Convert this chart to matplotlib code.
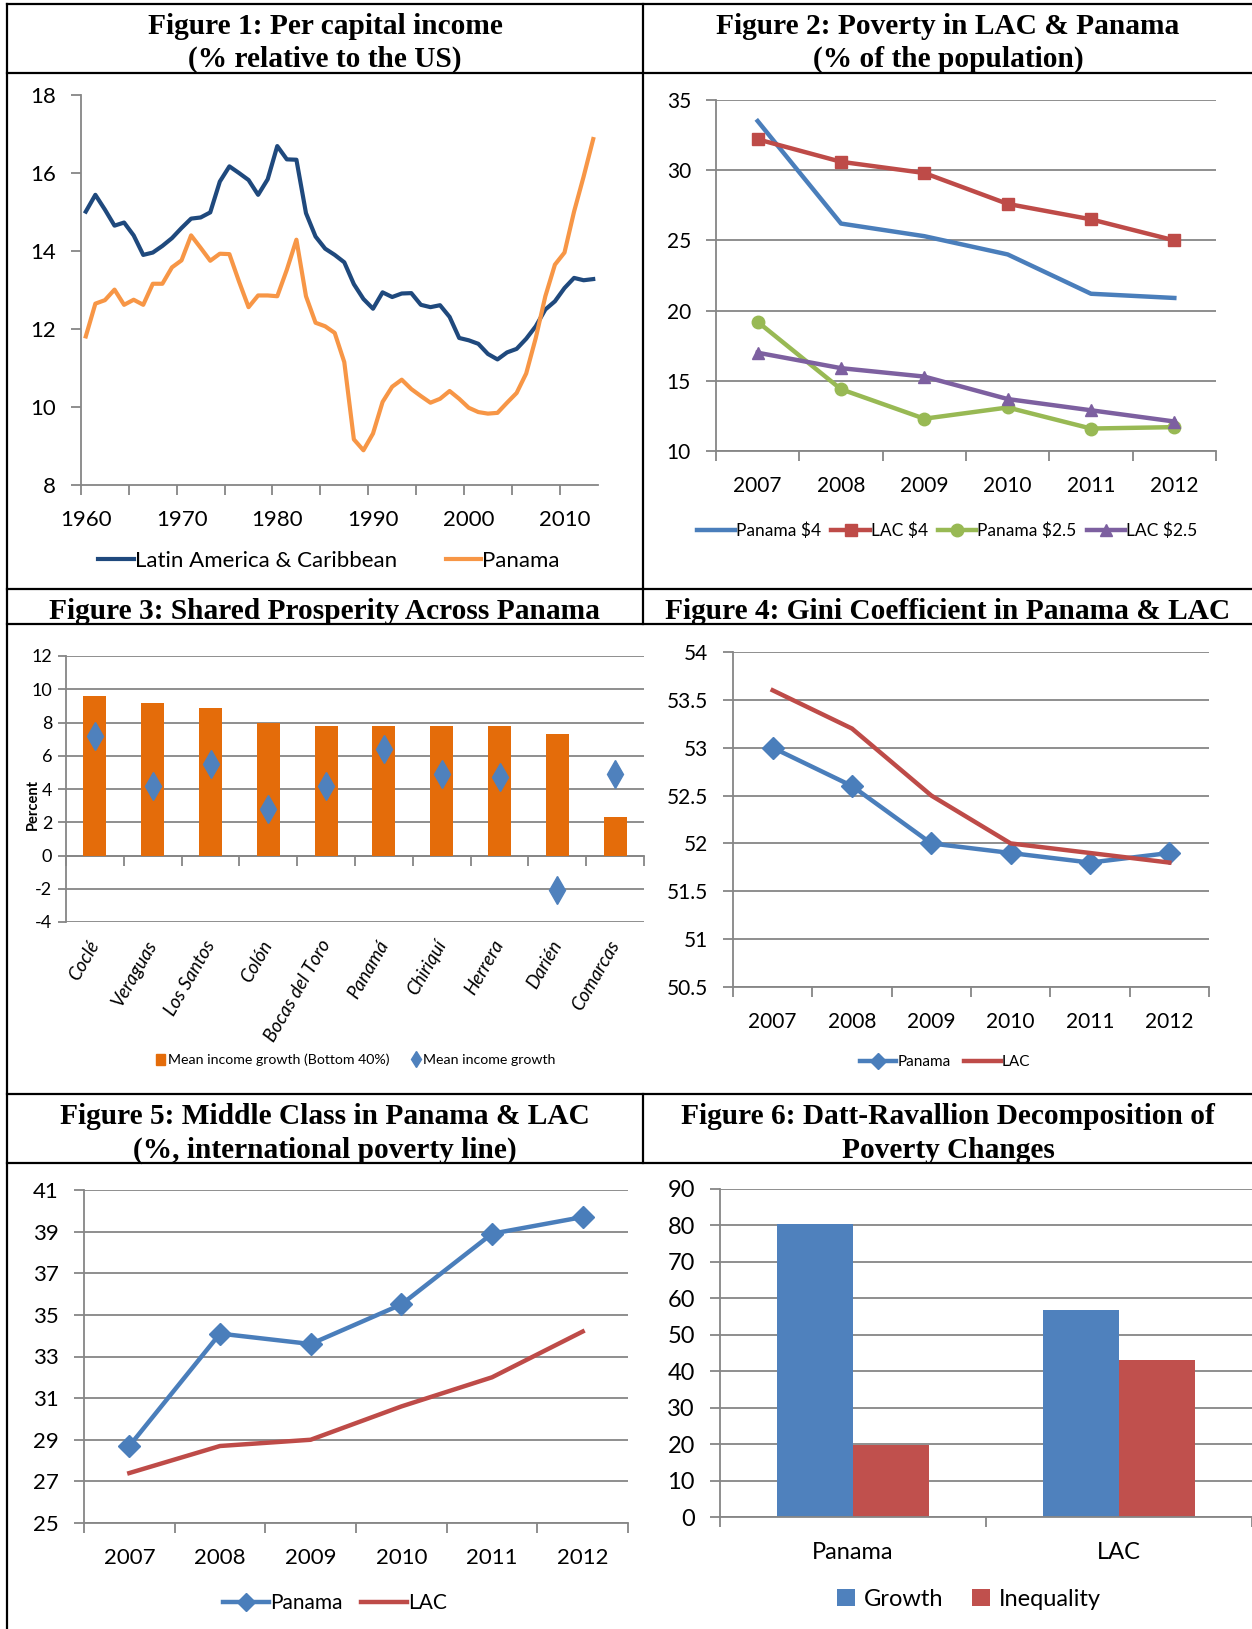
import numpy as np
import matplotlib
matplotlib.use("Agg")
import matplotlib.pyplot as plt
from matplotlib.lines import Line2D
from matplotlib.patches import Patch
from matplotlib import font_manager

W, H = 1252, 1629

# ---- Figure 1: per capita income relative to the US (1960-2013)
f1_years = list(range(1960, 2014))
f1_lac = [15.01, 15.44, 15.06, 14.65, 14.73, 14.40, 13.90, 13.96, 14.13, 14.33,
          14.59, 14.83, 14.86, 14.99, 15.78, 16.17, 16.00, 15.82, 15.44, 15.84,
          16.69, 16.35, 16.34, 14.97, 14.37, 14.06, 13.90, 13.71, 13.15, 12.77,
          12.52, 12.94, 12.82, 12.91, 12.92, 12.62, 12.56, 12.61, 12.31, 11.77,
          11.71, 11.62, 11.36, 11.22, 11.40, 11.49, 11.75, 12.07, 12.50, 12.71,
          13.05, 13.31, 13.25, 13.28]
f1_panama = [11.81, 12.65, 12.74, 13.01, 12.62, 12.75, 12.62, 13.16, 13.16, 13.58,
             13.76, 14.40, 14.08, 13.75, 13.93, 13.92, 13.22, 12.56, 12.86, 12.86,
             12.84, 13.52, 14.29, 12.84, 12.16, 12.07, 11.90, 11.15, 9.17, 8.89,
             9.32, 10.13, 10.52, 10.70, 10.46, 10.28, 10.11, 10.21, 10.41, 10.21,
             9.98, 9.87, 9.83, 9.85, 10.11, 10.36, 10.86, 11.77, 12.84, 13.65,
             13.96, 15.01, 15.91, 16.87]

# ---- shared years for figures 2, 4, 5
years = ["2007", "2008", "2009", "2010", "2011", "2012"]

# ---- Figure 2: poverty
pov_pan4 = [33.5, 26.2, 25.3, 24.0, 21.2, 20.9]
pov_lac4 = [32.2, 30.6, 29.8, 27.6, 26.5, 25.0]
pov_pan25 = [19.2, 14.4, 12.3, 13.1, 11.6, 11.7]
pov_lac25 = [17.0, 15.9, 15.3, 13.7, 12.9, 12.1]

# ---- Figure 3: shared prosperity
regions = ["Coclé", "Veraguas", "Los Santos", "Colón", "Bocas del Toro",
           "Panamá", "Chiriquí", "Herrera", "Darién", "Comarcas"]
growth_b40 = [9.6, 9.2, 8.9, 8.0, 7.8, 7.8, 7.8, 7.8, 7.3, 2.3]
growth_mean = [7.2, 4.2, 5.5, 2.8, 4.2, 6.4, 4.9, 4.7, -2.1, 4.9]

# ---- Figure 4: Gini
gini_pan = [53.0, 52.6, 52.0, 51.9, 51.8, 51.9]
gini_lac = [53.6, 53.2, 52.5, 52.0, 51.9, 51.8]

# ---- Figure 5: middle class
mid_pan = [28.7, 34.1, 33.6, 35.5, 38.9, 39.7]
mid_lac = [27.4, 28.7, 29.0, 30.6, 32.0, 34.2]

# ---- Figure 6: Datt-Ravallion
dr_groups = ["Panama", "LAC"]
dr_growth = [80.3, 56.8]
dr_ineq = [19.7, 43.2]

GRID = "#868686"
BLUE = "#4A7EBB"
RED = "#BE4B48"
GREEN = "#98B954"
PURPLE = "#7D60A0"

names = {f.name for f in font_manager.fontManager.ttflist}
NARROW = "Liberation Sans Narrow" if "Liberation Sans Narrow" in names else "Lato"
plt.rcParams["font.family"] = ["Lato", "DejaVu Sans"]
plt.rcParams["axes.unicode_minus"] = False
SERIF = dict(family="Liberation Serif", weight="bold", fontsize=21.2)


def box(l, t, r, b):
    return [l / W, 1 - b / H, (r - l) / W, (b - t) / H]


def fy(y):
    return 1 - y / H


def cat_axes(ax, ylim, ystep, labels, fs, grid=True, xpad=18, ypad=11):
    n = len(labels)
    ax.set_xlim(0, n)
    ax.set_ylim(*ylim)
    ax.set_yticks(np.arange(ylim[0], ylim[1] + ystep / 2, ystep))
    ax.yaxis.set_major_formatter(plt.FuncFormatter(lambda v, p: f"{v:g}"))
    ax.set_xticks(np.arange(n) + 0.5, labels)
    ax.set_xticks(np.arange(n + 1), minor=True)
    ax.tick_params(axis="x", which="major", length=0, labelsize=fs, pad=xpad)
    ax.tick_params(axis="x", which="minor", length=7, width=1.3, color=GRID)
    ax.tick_params(axis="y", length=7, width=1.3, color=GRID, labelsize=fs, pad=ypad)
    for s in ("top", "right"):
        ax.spines[s].set_visible(False)
    for s in ("left", "bottom"):
        ax.spines[s].set_color(GRID)
        ax.spines[s].set_linewidth(1.3)
    if grid:
        ax.yaxis.grid(True, color=GRID, lw=1.3)
        ax.set_axisbelow(True)


fig = plt.figure(figsize=(W / 100, H / 100), dpi=100)

# ---- table frame
def hline(y, x0=7, x1=W):
    fig.add_artist(Line2D([x0 / W, x1 / W], [fy(y), fy(y)], color="black", lw=1.6))


def vline(x, y0, y1):
    fig.add_artist(Line2D([x / W, x / W], [fy(y0), fy(y1)], color="black", lw=1.6))


for y in (4, 73, 589, 624, 1094, 1163):
    hline(y)
vline(7, 4, H)
vline(643, 4, 589)
vline(643, 589, 624)
vline(643, 1094, 1163)

# ---- headers
fig.text(325 / W, fy(26), "Figure 1: Per capital income", ha="center", va="center", **SERIF)
fig.text(325 / W, fy(59), "(% relative to the US)", ha="center", va="center", **SERIF)
fig.text(948 / W, fy(26), "Figure 2: Poverty in LAC & Panama", ha="center", va="center", **SERIF)
fig.text(948 / W, fy(59), "(% of the population)", ha="center", va="center", **SERIF)
fig.text(324 / W, fy(612), "Figure 3: Shared Prosperity Across Panama", ha="center", va="center", **SERIF)
fig.text(948 / W, fy(612), "Figure 4: Gini Coefficient in Panama & LAC", ha="center", va="center", **SERIF)
fig.text(325 / W, fy(1117), "Figure 5: Middle Class in Panama & LAC", ha="center", va="center", **SERIF)
fig.text(325 / W, fy(1150), "(%, international poverty line)", ha="center", va="center", **SERIF)
fig.text(948 / W, fy(1117), "Figure 6: Datt-Ravallion Decomposition of", ha="center", va="center", **SERIF)
fig.text(948 / W, fy(1150), "Poverty Changes", ha="center", va="center", **SERIF)

# ---- Figure 1
ax1 = fig.add_axes(box(81, 95, 598, 485))
n1 = len(f1_years)
x1 = np.arange(n1) + 0.5
l_lac, = ax1.plot(x1, f1_lac, color="#1F497D", lw=3.0, solid_joinstyle="round")
l_pan, = ax1.plot(x1, f1_panama, color="#F79646", lw=3.0, solid_joinstyle="round")
ax1.set_xlim(0, n1)
ax1.set_ylim(8, 18)
ax1.set_yticks(range(8, 19, 2))
lab_idx = [i for i, yr in enumerate(f1_years) if yr % 10 == 0]
ax1.set_xticks(x1[lab_idx], [str(f1_years[i]) for i in lab_idx])
ax1.set_xticks([i for i in range(n1) if i % 5 == 0], minor=True)
ax1.tick_params(axis="x", which="major", length=0, labelsize=16, pad=18)
ax1.tick_params(axis="x", which="minor", length=7, width=1.3, color=GRID)
ax1.tick_params(axis="y", length=7, width=1.3, color=GRID, labelsize=16, pad=11)
for s in ("top", "right"):
    ax1.spines[s].set_visible(False)
for s in ("left", "bottom"):
    ax1.spines[s].set_color(GRID)
    ax1.spines[s].set_linewidth(1.3)
fig.legend([l_lac, l_pan], ["Latin America & Caribbean", "Panama"], loc="center",
           bbox_to_anchor=(329 / W, fy(561)), ncol=2, frameon=False, fontsize=16,
           handlelength=1.6, handletextpad=0.05, columnspacing=2.2)

# ---- Figure 2
ax2 = fig.add_axes(box(716, 100, 1216, 451))
cat_axes(ax2, (10, 35), 5, years, 15)
xc = np.arange(len(years)) + 0.5
h1, = ax2.plot(xc, pov_pan4, color=BLUE, lw=3.2)
h2, = ax2.plot(xc, pov_lac4, color=RED, lw=3.2, marker="s", ms=9)
h3, = ax2.plot(xc, pov_pan25, color=GREEN, lw=3.2, marker="o", ms=9)
h4, = ax2.plot(xc, pov_lac25, color=PURPLE, lw=3.2, marker="^", ms=9)
fig.legend([h1, h2, h3, h4], ["Panama $4", "LAC $4", "Panama $2.5", "LAC $2.5"],
           loc="center", bbox_to_anchor=(947 / W, fy(531)), ncol=4, frameon=False,
           fontsize=12.5, handlelength=2.2, handletextpad=0.05, columnspacing=0.6)

# ---- Figure 3
ax3 = fig.add_axes(box(66, 656, 644, 922))
n3 = len(regions)
x3 = np.arange(n3) + 0.5
ax3.set_xlim(0, n3)
ax3.set_ylim(-4, 12)
ax3.set_yticks(range(-4, 13, 2))
b3 = ax3.bar(x3, growth_b40, 0.4, color="#E46C0A", zorder=2)
d3, = ax3.plot(x3, growth_mean, ls="none", marker="d", ms=14, color="#4F81BD",
               mec="#4F81BD", zorder=3)
ax3.yaxis.grid(True, color=GRID, lw=1.3)
ax3.set_axisbelow(True)
ax3.set_xticks(x3, regions, rotation=60, ha="right", va="center",
               rotation_mode="anchor", fontstyle="italic", fontsize=13.5)
ax3.tick_params(axis="x", length=0, pad=14)
ax3.tick_params(axis="y", length=6, width=1.3, color=GRID, pad=4)
for t in ax3.get_yticklabels():
    t.set_fontfamily([NARROW, "DejaVu Sans"])
    t.set_fontsize(13)
for s in ("top", "right", "bottom"):
    ax3.spines[s].set_visible(False)
ax3.spines["left"].set_color(GRID)
ax3.spines["left"].set_linewidth(1.3)
zero = ax3.secondary_xaxis(4 / 16)
zero.set_xticks(range(n3 + 1), [""] * (n3 + 1))
zero.tick_params(length=7, width=1.3, color=GRID)
zero.spines["bottom"].set_color(GRID)
zero.spines["bottom"].set_linewidth(1.3)
ax3.set_ylabel("Percent", fontsize=10.5, fontweight="bold")
ax3.yaxis.set_label_coords(-0.045, 0.44)
fig.legend([Patch(color="#E46C0A"), d3],
           ["Mean income growth (Bottom 40%)", "Mean income growth"],
           loc="center", bbox_to_anchor=(356 / W, fy(1060)), ncol=2, frameon=False,
           prop=dict(family=[NARROW, "DejaVu Sans"], size=10.2),
           handlelength=0.6, handleheight=0.8, handletextpad=0.2, columnspacing=1.6,
           markerscale=0.6)

# ---- Figure 4
ax4 = fig.add_axes(box(733, 652, 1209, 987))
cat_axes(ax4, (50.5, 54), 0.5, years, 15)
g1, = ax4.plot(xc, gini_pan, color=BLUE, lw=3.2, marker="D", ms=11)
g2, = ax4.plot(xc, gini_lac, color=RED, lw=3.2)
fig.legend([g1, g2], ["Panama", "LAC"], loc="center",
           bbox_to_anchor=(945 / W, fy(1062)), ncol=2, frameon=False, fontsize=11,
           handlelength=2.4, handletextpad=0.05, columnspacing=0.9, markerscale=0.7)

# ---- Figure 5
ax5 = fig.add_axes(box(84, 1190, 628, 1523))
cat_axes(ax5, (25, 41), 2, years, 16)
m1, = ax5.plot(xc, mid_pan, color=BLUE, lw=3.2, marker="D", ms=11)
m2, = ax5.plot(xc, mid_lac, color=RED, lw=3.2)
fig.legend([m1, m2], ["Panama", "LAC"], loc="center",
           bbox_to_anchor=(335 / W, fy(1603)), ncol=2, frameon=False, fontsize=15,
           handlelength=2.2, handletextpad=0.05, columnspacing=0.9, markerscale=0.8)

# ---- Figure 6
ax6 = fig.add_axes(box(720, 1189, 1252, 1517))
cat_axes(ax6, (0, 90), 10, dr_groups, 17)
x6 = np.arange(len(dr_groups)) + 0.5
bw = 0.2857
p1 = ax6.bar(x6 - bw / 2, dr_growth, bw, color="#4F81BD", zorder=2)
p2 = ax6.bar(x6 + bw / 2, dr_ineq, bw, color="#C0504D", zorder=2)
fig.legend([p1, p2], ["Growth", "Inequality"], loc="center",
           bbox_to_anchor=(969 / W, fy(1599)), ncol=2, frameon=False, fontsize=17,
           handlelength=0.75, handleheight=0.75, handletextpad=0.4, columnspacing=1.2)

fig.savefig("out.png", dpi=100)
